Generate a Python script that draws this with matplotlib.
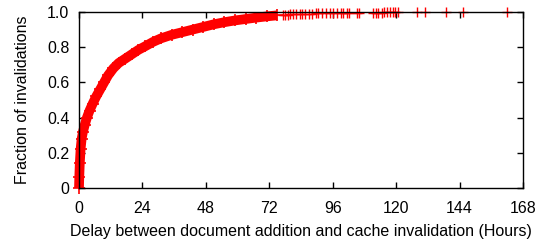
import matplotlib
matplotlib.use("Agg")
import matplotlib.pyplot as plt
from matplotlib.ticker import FixedLocator, FixedFormatter

plt.rcParams['font.family'] = ['Liberation Sans', 'DejaVu Sans']

# Main body of the CDF (hours, cumulative fraction)
curve_hours = [0, 0.1, 0.3, 0.6, 1.0, 1.5, 2.2, 3.0, 4.0, 5.2, 6.5, 8.0, 9.5, 11.0,
               13.0, 15.0, 17.5, 20.0, 22.5, 25.0, 28.0, 31.0, 35.0, 39.0, 43.0,
               47.0, 51.0, 55.0, 59.0, 63.0, 67.0, 71.0, 75.0]
curve_frac = [0, 0.06, 0.14, 0.22, 0.28, 0.32, 0.36, 0.40, 0.44, 0.48, 0.52, 0.56,
              0.60, 0.64, 0.68, 0.71, 0.735, 0.76, 0.785, 0.805, 0.83, 0.85, 0.87,
              0.885, 0.90, 0.915, 0.93, 0.942, 0.952, 0.96, 0.968, 0.975, 0.981]

# Sparse tail of long delays (individual points)
tail_hours = [77, 78, 79, 80, 81, 82, 83.5, 84.5, 85.5, 87, 88, 89.5, 90.5, 92,
              93.5, 95, 96, 97.5, 99, 100, 101.3, 102.2, 105.1, 105.9, 111.4,
              112.3, 113.2, 114.5, 115.5, 116.4, 117.7, 118.9, 119.6, 120.6,
              127.8, 130.9, 138.9, 145.2, 161.8]
tail_frac = [0.983, 0.984, 0.985, 0.986, 0.987, 0.988, 0.989, 0.990, 0.990, 0.991,
             0.991, 0.992, 0.992, 0.993, 0.993, 0.994, 0.994, 0.995, 0.995, 0.995,
             0.996, 0.996, 0.996, 0.996, 0.997, 0.997, 0.997, 0.997, 0.998, 0.998,
             0.998, 0.998, 0.998, 0.999, 0.999, 0.999, 0.999, 1.0, 1.0]

x_ticks = [0, 24, 48, 72, 96, 120, 144, 168]
x_labels = ["0", "24", "48", "72", "96", "120", "144", "168"]
y_ticks = [0, 0.2, 0.4, 0.6, 0.8, 1.0]
y_labels = ["0", "0.2", "0.4", "0.6", "0.8", "1.0"]

fig = plt.figure(figsize=(5.46, 2.44), dpi=100)
ax = fig.add_axes([79/546, 1 - 188/244, (523 - 79)/546, (188 - 12)/244])

red = '#ff0000'
ax.plot(curve_hours, curve_frac, color=red, lw=7, solid_capstyle='butt',
        clip_on=False, zorder=3)
ax.plot(curve_hours, curve_frac, linestyle='none', marker='+', ms=8, mew=1.2,
        color=red, clip_on=False, zorder=3)
ax.plot(tail_hours, tail_frac, linestyle='none', marker='+', ms=7, mew=1.0,
        color=red, clip_on=False, zorder=3)

ax.set_xlim(0, 168)
ax.set_ylim(0, 1.0)
ax.xaxis.set_major_locator(FixedLocator(x_ticks))
ax.xaxis.set_major_formatter(FixedFormatter(x_labels))
ax.yaxis.set_major_locator(FixedLocator(y_ticks))
ax.yaxis.set_major_formatter(FixedFormatter(y_labels))
ax.tick_params(direction='in', length=4, width=1, top=True, right=True,
               labelsize=11.5, colors='black')
ax.tick_params(axis='x', pad=9.5)
ax.tick_params(axis='y', pad=7)
for s in ax.spines.values():
    s.set_linewidth(1.0)
    s.set_zorder(4)

ax.set_xlabel("Delay between document addition and cache invalidation (Hours)",
              fontsize=11.5, labelpad=5.5)
ax.set_ylabel("Fraction of invalidations", fontsize=11.5, labelpad=12)

fig.savefig("out.png", dpi=100)
